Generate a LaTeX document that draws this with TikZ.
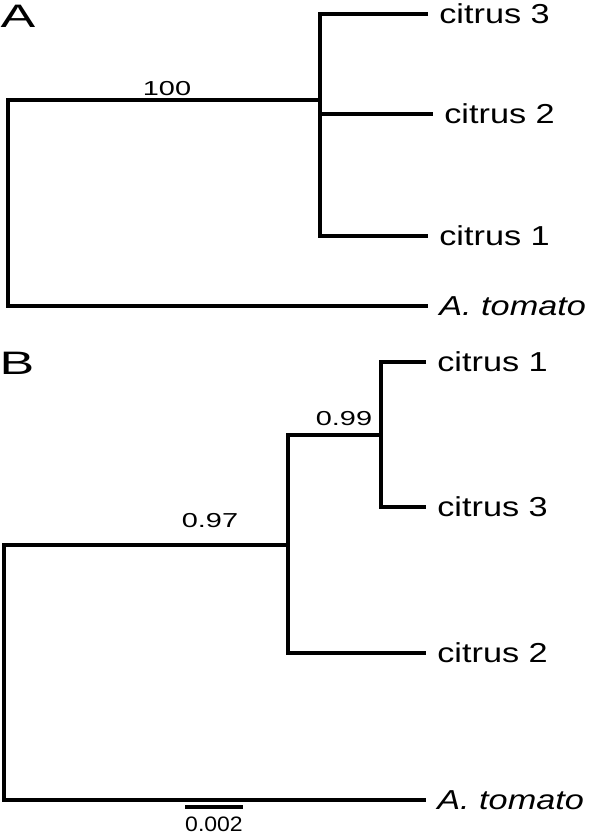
\documentclass[tikz,border=0pt]{standalone}
\usepackage{fontspec}
\setmainfont{Liberation Sans}
\newfontfamily\taxonfont[FakeStretch=1.25]{Liberation Sans}
\newfontfamily\supportfont[FakeStretch=1.43]{Liberation Sans}
\newfontfamily\barfont[FakeStretch=1.1]{Liberation Sans}
\newfontfamily\panelfont[FakeStretch=1.6]{Liberation Sans}
\tikzset{
  branch/.style={black, line width=1.9pt},
  taxon/.style={anchor=west, inner xsep=0.22cm, inner ysep=0pt, font=\taxonfont\fontsize{15.6}{18}\selectfont},
  support/.style={inner sep=0pt, font=\supportfont\fontsize{11.5}{13}\selectfont},
  barlabel/.style={inner sep=0pt, font=\barfont\fontsize{11.9}{14}\selectfont},
  panel/.style={inner sep=0pt, font=\panelfont\fontsize{18.5}{20}\selectfont}
}

\begin{document}
\begin{tikzpicture}[x=0.02cm, y=-0.02cm]
\useasboundingbox (0,0) rectangle (600,835);

% A
\node[panel] (lblA) at (18,16) {A};
\coordinate (rootA) at (8,203);
\coordinate (nA) at (320,100);
\node[taxon] (a3) at (428,14) {citrus 3};
\node[taxon] (a2) at (433,114) {citrus 2};
\node[taxon] (a1) at (428,236) {citrus 1};
\node[taxon] (aout) at (428,306) {\textit{A. tomato}};
\node[support] (supA) at (167,89) {100};
\draw[branch] (a3.west) -| (nA) |- (a1.west);
\draw[branch] (nA |- a2.west) -- (a2.west);
\draw[branch] (nA) -| (rootA) |- (aout.west);

% B
\node[panel] (lblB) at (17,363) {B};
\coordinate (rootB) at (4,670);
\coordinate (nB) at (288,545);
\coordinate (nC) at (381,435);
\node[taxon] (b1) at (426,362) {citrus 1};
\node[taxon] (b3) at (426,507) {citrus 3};
\node[taxon] (b2) at (426,653) {citrus 2};
\node[taxon] (bout) at (426,800) {\textit{A. tomato}};
\node[support] (supB) at (210,521) {0.97};
\node[support] (supC) at (344,419) {0.99};
\draw[branch] (b1.west) -| (nC) |- (b3.west);
\draw[branch] (nC) -| (nB) |- (b2.west);
\draw[branch] (nB) -| (rootB) |- (bout.west);

% scale bar
\coordinate (sbl) at (185,807);
\coordinate (sbr) at (243,807);
\draw[branch] (sbl) -- (sbr);
\node[barlabel] (sblbl) at (214,824) {0.002};

\end{tikzpicture}
\end{document}
